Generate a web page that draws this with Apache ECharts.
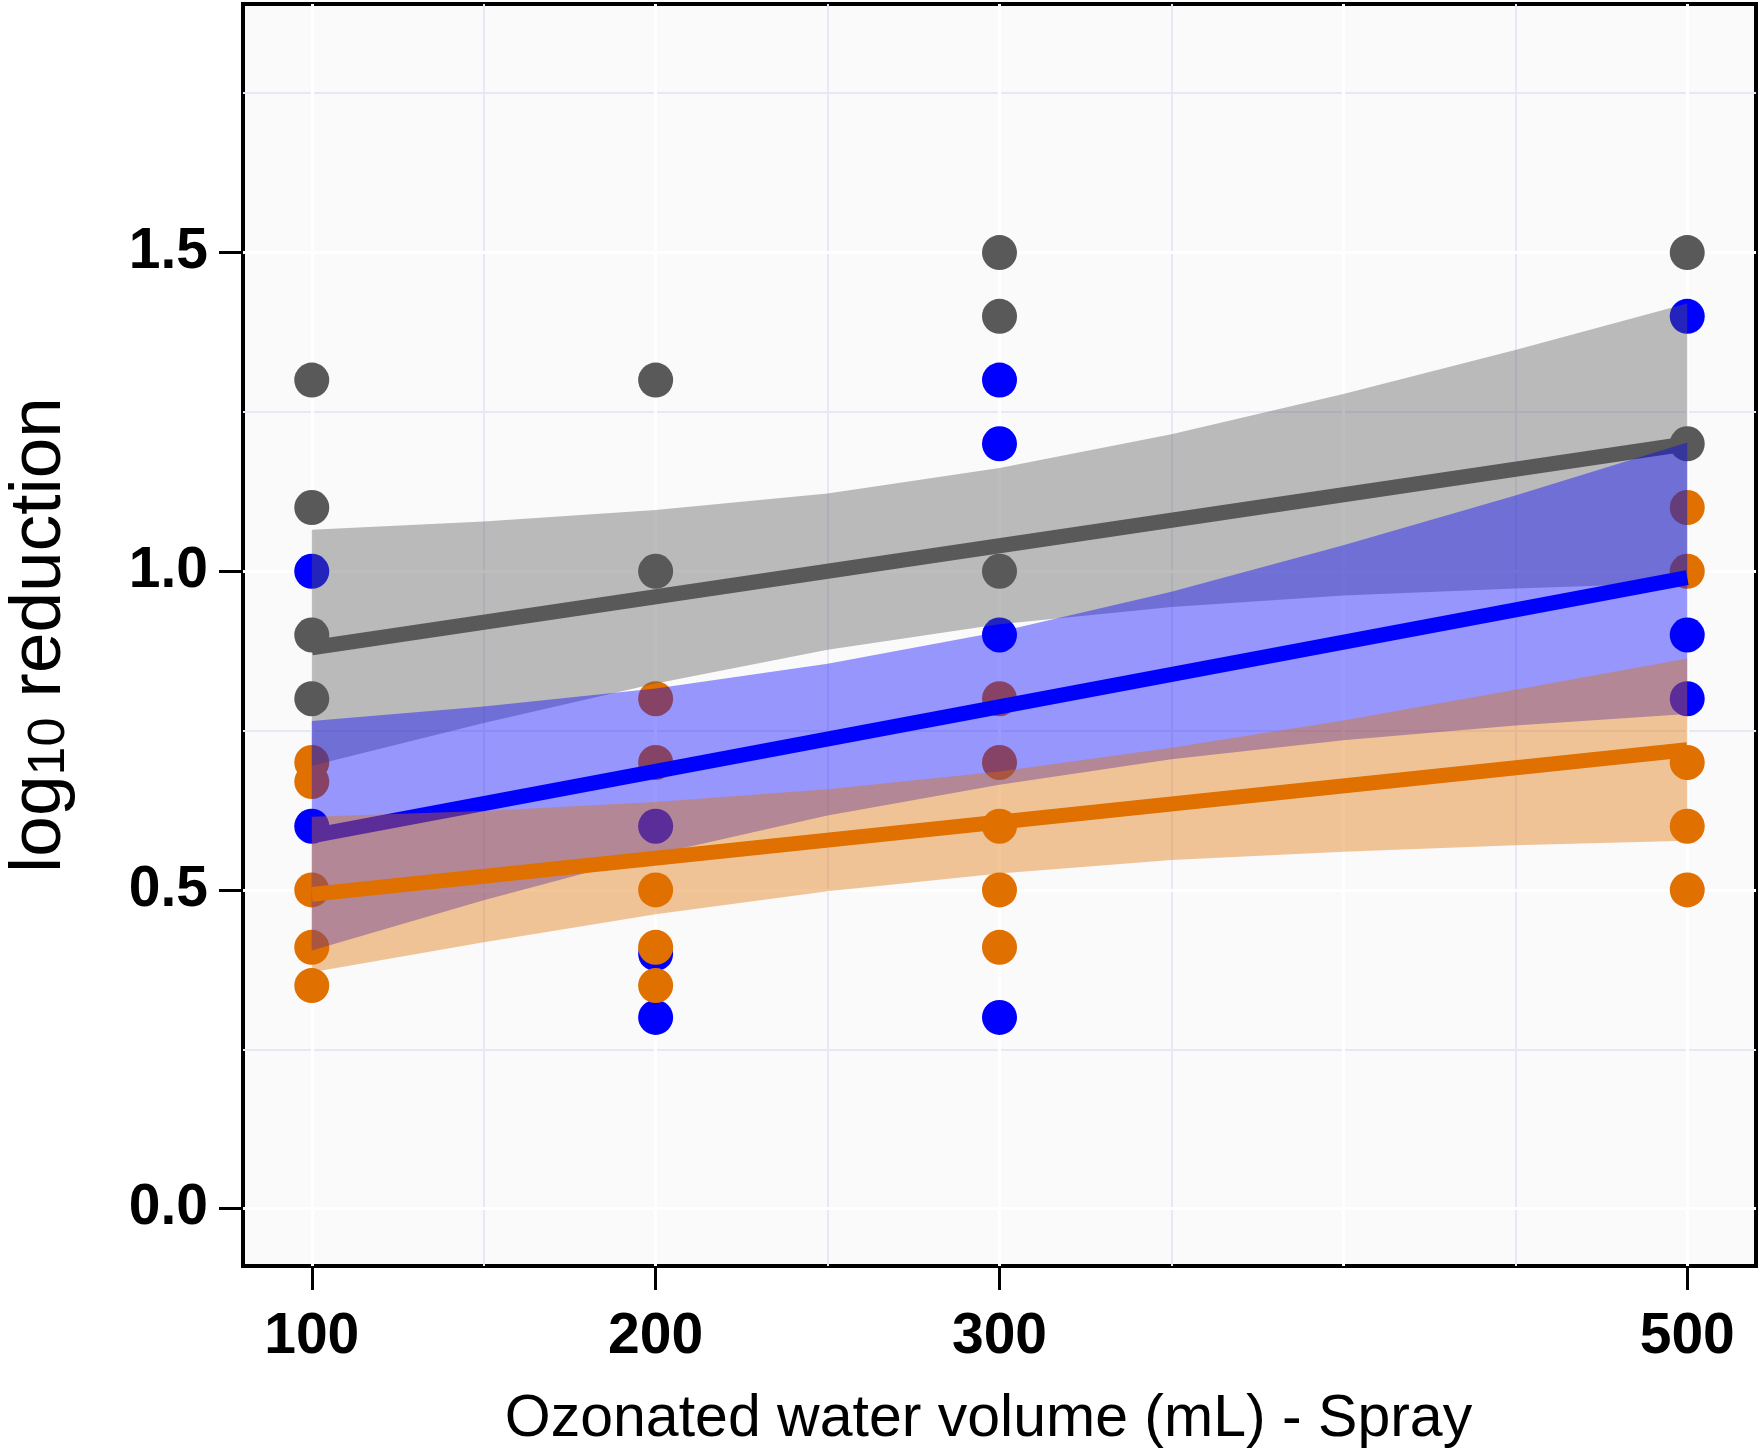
<!DOCTYPE html>
<html>
<head>
<meta charset="utf-8">
<script src="https://cdn.jsdelivr.net/npm/echarts@6/dist/echarts.min.js"></script>
<style>
html, body { margin: 0; padding: 0; background: #fff; }
#chart { width: 1761px; height: 1453px; }
</style>
</head>
<body>
<div id="chart"></div>
<script>
// points: [volume, log10 reduction]
var grayPoints = [[100, 1.30], [100, 1.10], [100, 0.90], [100, 0.80],
    [200, 1.30], [200, 1.00],
    [300, 1.50], [300, 1.40], [300, 1.00],
    [500, 1.50], [500, 1.20]];
var bluePoints = [[100, 1.00], [100, 0.60],
    [200, 0.60], [200, 0.40], [200, 0.30],
    [300, 1.30], [300, 1.20], [300, 0.90], [300, 0.30],
    [500, 1.40], [500, 0.90], [500, 0.80]];
var orangePoints = [[100, 0.70], [100, 0.67], [100, 0.50], [100, 0.41], [100, 0.35],
    [200, 0.80], [200, 0.70], [200, 0.50], [200, 0.41], [200, 0.35],
    [300, 0.80], [300, 0.70], [300, 0.60], [300, 0.50], [300, 0.41],
    [500, 1.10], [500, 1.00], [500, 0.70], [500, 0.60], [500, 0.50]];

// fitted straight lines, read at both ends
var lineX = [100, 500];
var grayFit = [0.88, 1.20];
var blueFit = [0.585, 0.99];
var orangeFit = [0.493, 0.72];

// confidence bands, read at these volumes
var bandX = [100, 150, 200, 250, 300, 350, 400, 450, 500];
var grayUpper = [1.065, 1.078, 1.096, 1.122, 1.162, 1.215, 1.278, 1.347, 1.42];
var grayLower = [0.695, 0.762, 0.824, 0.877, 0.917, 0.944, 0.962, 0.973, 0.982];
var blueUpper = [0.765, 0.788, 0.816, 0.855, 0.905, 0.968, 1.041, 1.119, 1.202];
var blueLower = [0.405, 0.484, 0.556, 0.617, 0.665, 0.705, 0.735, 0.758, 0.776];
var orangeUpper = [0.615, 0.624, 0.638, 0.658, 0.686, 0.723, 0.766, 0.814, 0.863];
var orangeLower = [0.371, 0.418, 0.462, 0.498, 0.526, 0.547, 0.56, 0.57, 0.577];

// axis ticks
var xTicks = [100, 200, 300, 500];
var xMajor = [100, 200, 300, 400, 500];
var xMinor = [150, 250, 350, 450];
var yTicks = [0, 0.5, 1.0, 1.5];
var yMinor = [0.25, 0.75, 1.25, 1.75];

var fontFamily = 'Liberation Sans, Arial, sans-serif';
var grayColor = '#595959';
var blueColor = '#0000ff';
var orangeColor = '#e07000';

var myChart = echarts.init(document.getElementById('chart'));

function pairs(xs, ys) {
    var out = [];
    for (var i = 0; i < xs.length; i++) {
        out.push([xs[i], ys[i]]);
    }
    return out;
}

// band drawn once as a polygon through the axis scales
function ribbon(lower, upper, fill, z) {
    var rows = [];
    for (var i = 0; i < bandX.length; i++) {
        rows.push([bandX[i], lower[i], upper[i]]);
    }
    return {
        type: 'custom',
        z: z,
        silent: true,
        data: rows,
        encode: {x: 0, y: [1, 2]},
        renderItem: function (params, api) {
            if (params.dataIndex !== 0) return null;
            var pts = [];
            for (var i = 0; i < rows.length; i++) {
                pts.push(api.coord([rows[i][0], rows[i][2]]));
            }
            for (var j = rows.length - 1; j >= 0; j--) {
                pts.push(api.coord([rows[j][0], rows[j][1]]));
            }
            return {
                type: 'polygon',
                shape: {points: pts},
                style: {fill: fill, stroke: null}
            };
        }
    };
}

function fitLine(ys, color, z) {
    return {
        type: 'line',
        z: z,
        silent: true,
        showSymbol: false,
        data: pairs(lineX, ys),
        lineStyle: {color: color, width: 15, cap: 'butt'}
    };
}

function points(data, color, z) {
    return {
        type: 'scatter',
        z: z,
        silent: true,
        symbolSize: 35,
        data: data,
        itemStyle: {color: color, opacity: 1}
    };
}

// helper axes only carry grid lines
function gridAxis(kind, values, color, width, z) {
    var ax = {
        type: 'value',
        z: z,
        axisLine: {show: false, onZero: false},
        axisLabel: {show: false},
        axisTick: {show: false, customValues: values},
        splitLine: {show: true, lineStyle: {color: color, width: width}}
    };
    if (kind === 'x') { ax.min = 80; ax.max = 520; ax.position = 'bottom'; }
    else { ax.min = -0.09; ax.max = 1.89; ax.position = 'left'; }
    return ax;
}

var option = {
    backgroundColor: '#ffffff',
    animation: false,
    grid: {
        left: 243,
        right: 5,
        top: 4,
        bottom: 187,
        show: true,
        backgroundColor: '#fafafa',
        borderColor: '#000',
        borderWidth: 4,
        outerBoundsMode: 'none'
    },
    xAxis: [
        {
            type: 'value',
            min: 80,
            max: 520,
            position: 'bottom',
            z: 3,
            axisLine: {show: false, onZero: false},
            axisTick: {show: true, length: 24, customValues: xTicks, lineStyle: {color: '#000', width: 3}},
            axisLabel: {
                customValues: xTicks,
                margin: 43,
                color: '#000',
                fontSize: 57,
                fontWeight: 'bold',
                fontFamily: fontFamily
            },
            splitLine: {show: false},
            name: 'Ozonated water volume (mL) - Spray',
            nameLocation: 'middle',
            nameGap: 124,
            nameTextStyle: {color: '#000', fontSize: 59, fontFamily: fontFamily, padding: [0, 22, 0, 0]}
        },
        gridAxis('x', xMinor, '#e8e8f5', 2, 1),
        gridAxis('x', xMajor, '#ffffff', 3, 2)
    ],
    yAxis: [
        {
            type: 'value',
            min: -0.09,
            max: 1.89,
            position: 'left',
            z: 3,
            axisLine: {show: false, onZero: false},
            axisTick: {show: true, length: 24, customValues: yTicks, lineStyle: {color: '#000', width: 3}},
            axisLabel: {
                customValues: yTicks,
                margin: 35,
                color: '#000',
                fontSize: 57,
                fontWeight: 'bold',
                fontFamily: fontFamily,
                formatter: function (v) { return v.toFixed(1); }
            },
            splitLine: {show: false},
            name: '{a|log}{b|10}{a| reduction}',
            nameLocation: 'middle',
            nameRotate: 90,
            nameGap: 167,
            nameTextStyle: {
                color: '#000',
                fontFamily: fontFamily,
                rich: {
                    a: {fontSize: 73, lineHeight: 73, fontFamily: fontFamily, color: '#000'},
                    b: {fontSize: 52, lineHeight: 52, fontFamily: fontFamily, color: '#000',
                        verticalAlign: 'bottom', padding: [45, 0, 0, 0]}
                }
            }
        },
        gridAxis('y', yMinor, '#e8e8f5', 2, 1),
        gridAxis('y', yTicks, '#ffffff', 3, 2)
    ],
    series: [
        points(grayPoints, grayColor, 4),
        points(bluePoints, blueColor, 5),
        points(orangePoints, orangeColor, 6),
        ribbon(grayLower, grayUpper, 'rgba(89,89,89,0.4)', 7),
        fitLine(grayFit, grayColor, 8),
        ribbon(blueLower, blueUpper, 'rgba(0,0,255,0.4)', 9),
        fitLine(blueFit, blueColor, 10),
        ribbon(orangeLower, orangeUpper, 'rgba(224,112,0,0.4)', 11),
        fitLine(orangeFit, orangeColor, 12)
    ]
};

myChart.setOption(option);
</script>
</body>
</html>
